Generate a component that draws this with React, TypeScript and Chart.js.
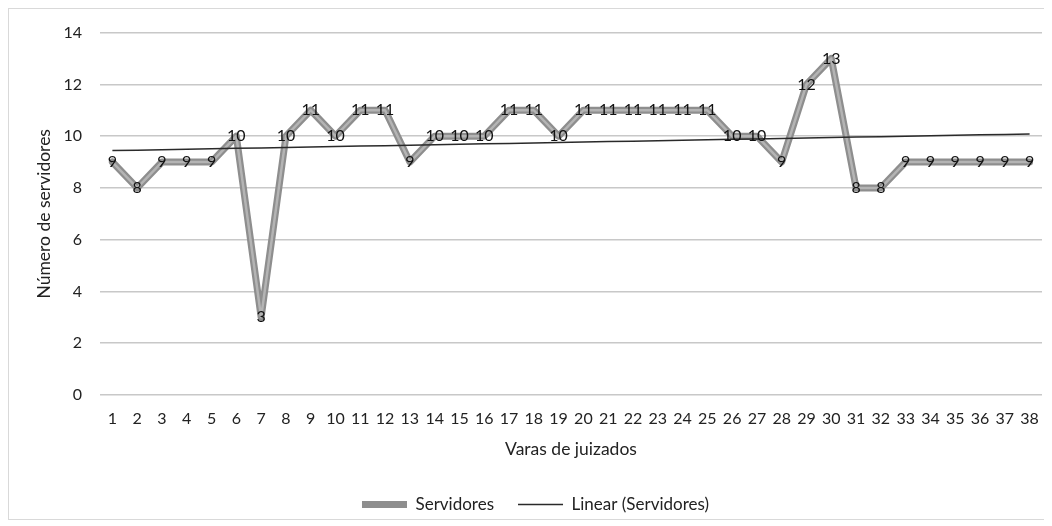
import React, { useEffect, useRef } from "react";
import { Chart, registerables } from "chart.js";

Chart.register(...registerables);

const categories = Array.from({ length: 38 }, (_, i) => String(i + 1));
const servidores = [9, 8, 9, 9, 9, 10, 3, 10, 11, 10, 11, 11, 9, 10, 10, 10, 11, 11, 10, 11, 11, 11, 11, 11, 11, 10, 10, 9, 12, 13, 8, 8, 9, 9, 9, 9, 9, 9];
const yTicks = [0, 2, 4, 6, 8, 10, 12, 14];

// Linear trend (least squares of the series)
function linearTrend(values: number[]): number[] {
  const n = values.length;
  const xs = values.map((_, i) => i + 1);
  const mx = xs.reduce((a, b) => a + b, 0) / n;
  const my = values.reduce((a, b) => a + b, 0) / n;
  let num = 0, den = 0;
  xs.forEach((x, i) => { num += (x - mx) * (values[i] - my); den += (x - mx) * (x - mx); });
  const slope = num / den;
  const b = my - slope * mx;
  return xs.map((x) => b + slope * x);
}
const trend = linearTrend(servidores);

const FONT = "Lato, 'Open Sans', sans-serif";

const dataLabelPlugin = {
  id: "dataLabels",
  afterDatasetsDraw(chart: any) {
    const meta = chart.getDatasetMeta(0);
    const ctx = chart.ctx;
    ctx.save();
    ctx.font = `16px ${FONT}`;
    ctx.fillStyle = "#111";
    ctx.textAlign = "center";
    ctx.textBaseline = "middle";
    meta.data.forEach((pt: any, i: number) => {
      ctx.fillText(String(servidores[i]), pt.x, pt.y);
    });
    ctx.restore();
  },
};

export default function App() {
  const ref = useRef<HTMLCanvasElement | null>(null);
  useEffect(() => {
    if (!ref.current) return;
    const chart = new Chart(ref.current, {
      type: "line",
      data: {
        labels: categories,
        datasets: [
          {
            label: "Servidores",
            data: servidores,
            borderColor: "#8e8e8e",
            borderWidth: 7,
            borderJoinStyle: "round",
            borderCapStyle: "round",
            pointRadius: 0,
            tension: 0,
            order: 2,
          },
          {
            label: "_inner",
            data: servidores,
            borderColor: "#b4b4b4",
            borderWidth: 2.5,
            borderJoinStyle: "round",
            pointRadius: 0,
            tension: 0,
            order: 1,
          },
          {
            label: "Linear (Servidores)",
            data: trend,
            borderColor: "#2a2a2a",
            borderWidth: 1.5,
            pointRadius: 0,
            tension: 0,
            order: 0,
          },
        ],
      },
      options: {
        animation: false,
        responsive: false,
        maintainAspectRatio: false,
        layout: { padding: { left: 20, right: 7, top: 7, bottom: -4 } },
        plugins: {
          tooltip: { enabled: false },
          legend: {
            position: "bottom",
            labels: {
              usePointStyle: true,
              pointStyle: "line",
              pointStyleWidth: 45,
              padding: 24,
              color: "#222",
              font: { family: FONT, size: 17 },
              filter: (item: any) => item.text !== "_inner",
              sort: (a: any, b: any) => a.datasetIndex - b.datasetIndex,
            },
          },
        },
        scales: {
          x: {
            offset: true,
            grid: { display: false, offset: true },
            border: { display: false },
            ticks: { color: "#222", font: { family: FONT, size: 16 }, padding: 6, maxRotation: 0, autoSkip: false },
            title: { display: true, text: "Varas de juizados", color: "#222", font: { family: FONT, size: 17.5 }, padding: { top: 0, bottom: 12 } },
            afterFit: (s: any) => { s.height = 77; },
          },
          y: {
            min: 0,
            max: 14,
            afterBuildTicks: (s: any) => { s.ticks = yTicks.map((v) => ({ value: v })); },
            grid: { color: "#c8c8c8", lineWidth: 1.5, drawTicks: false },
            border: { display: false },
            ticks: { color: "#222", font: { family: FONT, size: 16 }, padding: 18 },
            title: { display: true, text: "Número de servidores", color: "#222", font: { family: FONT, size: 17.5 }, padding: { top: 5, bottom: 0 } },
            afterFit: (s: any) => { s.width = 71; },
          },
        },
      },
      plugins: [dataLabelPlugin],
    });
    return () => chart.destroy();
  }, []);
  return (
    <div style={{ position: "relative", width: 1042, height: 512, boxSizing: "border-box", border: "1px solid #d9d9d9", background: "#fff" }}>
      <canvas ref={ref} width={1040} height={514} style={{ display: "block", position: "absolute", left: 0, top: -4 }} />
    </div>
  );
}
